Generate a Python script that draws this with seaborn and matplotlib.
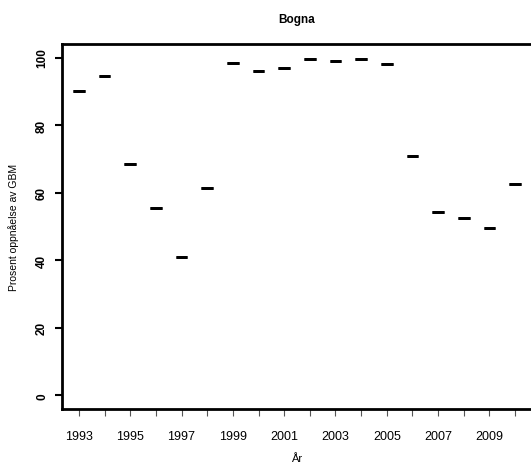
import matplotlib
matplotlib.use("Agg")
import matplotlib.pyplot as plt
import seaborn as sns
import pandas as pd

years = [1993, 1994, 1995, 1996, 1997, 1998, 1999, 2000, 2001, 2002,
         2003, 2004, 2005, 2006, 2007, 2008, 2009, 2010]
values = [90.1, 94.6, 68.6, 55.4, 40.9, 61.4, 98.3, 95.9, 96.8, 99.7,
          98.9, 99.7, 98.1, 70.8, 54.3, 52.6, 49.7, 62.5]
yticks = [0, 20, 40, 60, 80, 100]
title = "Bogna"
xlabel = "År"
ylabel = "Prosent oppnåelse av GBM"

sns.set_theme(style="white")
plt.rcParams['font.family'] = ['Liberation Sans', 'DejaVu Sans']
plt.rcParams['text.color'] = 'black'
plt.rcParams['axes.labelcolor'] = 'black'
plt.rcParams['xtick.color'] = 'black'
plt.rcParams['ytick.color'] = 'black'

df = pd.DataFrame({"year": [str(y) for y in years], "value": values})

fig = plt.figure(figsize=(5.31, 4.64), dpi=100)
ax = fig.add_axes([62/531, 1 - 410/464, (532 - 62)/531, (410 - 45)/464])

sns.boxplot(data=df, x="year", y="value", ax=ax, color="white",
            width=0.45, linewidth=2, linecolor="black",
            medianprops=dict(color="black", linewidth=2),
            showcaps=False, whis=0, fliersize=0)

ax.set_ylim(-4, 104)
ax.set_xlim(-0.66, len(years) - 1 + 0.66)
ax.set_yticks(yticks)
ax.set_yticklabels([str(t) for t in yticks], rotation=90, va="center",
                   fontweight="bold", fontsize=8.5)
ax.set_xticks(range(len(years)))
ax.set_xticklabels([str(y) if i % 2 == 0 else "" for i, y in enumerate(years)],
                   fontsize=9)
ax.tick_params(axis="x", bottom=True, direction="out", length=5, width=0.8,
               color="#555555", pad=10)
ax.tick_params(axis="y", left=True, direction="out", length=5, width=1.5,
               color="black", pad=5)

for name, s in ax.spines.items():
    s.set_color("black")
    s.set_linewidth(2)
ax.spines["right"].set_visible(False)

ax.set_xlabel(xlabel, fontsize=8, labelpad=8)
ax.set_ylabel(ylabel, fontsize=7.5, labelpad=12)
ax.set_title(title, fontsize=8.5, fontweight="bold", pad=16)

fig.savefig("out.png", dpi=100)
